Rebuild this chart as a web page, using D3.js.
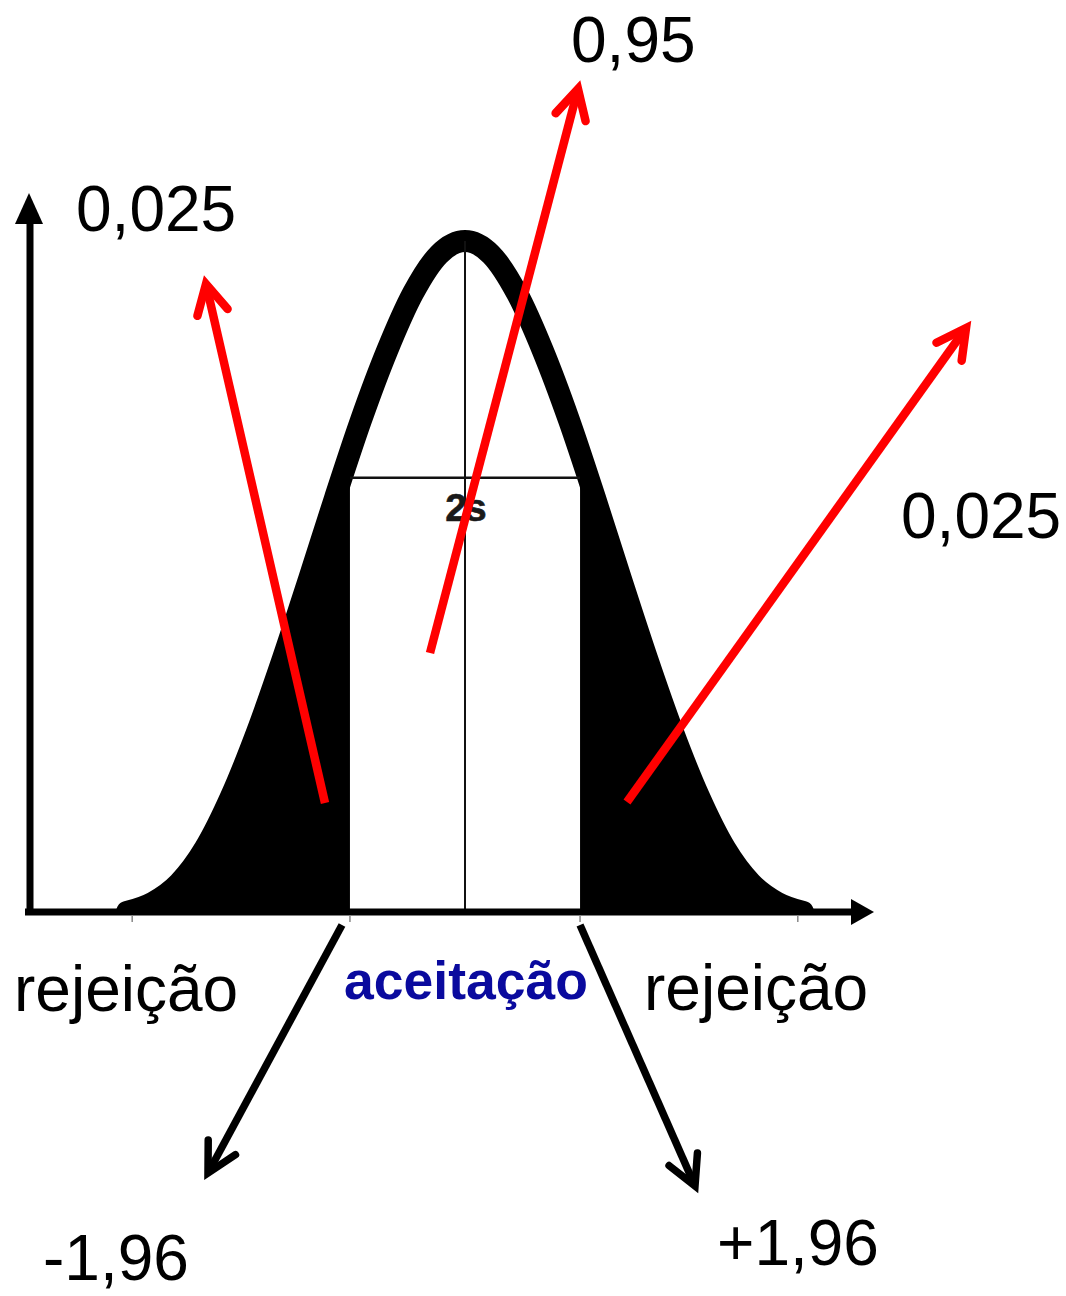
<!DOCTYPE html>
<html>
<head>
<meta charset="utf-8">
<script src="https://cdn.jsdelivr.net/npm/d3@7"></script>
<style>
  html, body { margin: 0; padding: 0; background: #fff; }
  svg { display: block; }
</style>
</head>
<body>
<svg id="chart" width="1066" height="1296"></svg>
<script>
// Bell curve: standardized positions and curve height relative to the peak
const zValues = [-2.6, -2.4, -2.2, -2.0, -1.8, -1.6, -1.4, -1.2, -1.0, -0.8, -0.6, -0.4, -0.2,
                 0, 0.2, 0.4, 0.6, 0.8, 1.0, 1.2, 1.4, 1.6, 1.8, 2.0, 2.2, 2.4, 2.6];
const curveHeights = [0.0, 0.014, 0.043, 0.095, 0.172, 0.268, 0.378, 0.496, 0.617, 0.733, 0.836, 0.922, 0.980,
                      1.0, 0.980, 0.922, 0.836, 0.733, 0.617, 0.496, 0.378, 0.268, 0.172, 0.095, 0.043, 0.014, 0.0];

// acceptance region limits and the level of the "2s" bar
const acceptanceLimits = [-0.885, 0.885];
const bandLevel = 0.647;
const axisTicks = [-2.56, -0.885, 0.885, 2.56];

// texts
const probLabels = ["0,025", "0,95", "0,025"];
const regionLabels = ["rejeição", "aceitação", "rejeição"];
const criticalLabels = ["-1,96", "+1,96"];
const spreadLabel = "2s";

const svg = d3.select("#chart");
const FONT = "'Liberation Sans', Arial, Helvetica, sans-serif";

const x = d3.scaleLinear().domain([-1, 1]).range([465 - 130, 465 + 130]);
const y = d3.scaleLinear().domain([0, 1]).range([912, 241]);

const points = zValues.map((z, i) => ({ z, h: curveHeights[i] }));

const defs = svg.append("defs");
// keeps only the two rejection tails
const clip = defs.append("clipPath").attr("id", "tails");
clip.append("rect").attr("x", 0).attr("y", 0)
  .attr("width", x(acceptanceLimits[0])).attr("height", 1296);
clip.append("rect").attr("x", x(acceptanceLimits[1])).attr("y", 0)
  .attr("width", 1066 - x(acceptanceLimits[1])).attr("height", 1296);
// keeps the curve stroke above the horizontal axis
defs.append("clipPath").attr("id", "aboveAxis")
  .append("rect").attr("x", 0).attr("y", 0).attr("width", 1066).attr("height", y(0));

const area = d3.area()
  .x(d => x(d.z)).y0(y(0)).y1(d => y(d.h))
  .curve(d3.curveMonotoneX);
const line = d3.line()
  .x(d => x(d.z)).y(d => y(d.h))
  .curve(d3.curveMonotoneX);

svg.append("path")
  .datum(points)
  .attr("d", area)
  .attr("fill", "#000")
  .attr("clip-path", "url(#tails)");

svg.append("g").attr("clip-path", "url(#aboveAxis)")
  .append("path")
  .datum(points)
  .attr("d", line)
  .attr("fill", "none")
  .attr("stroke", "#000")
  .attr("stroke-width", 22)
  .attr("stroke-linejoin", "round")
  .attr("stroke-linecap", "round");

// mean line and the 2s bar
svg.append("line")
  .attr("x1", x(0)).attr("x2", x(0))
  .attr("y1", y(1)).attr("y2", y(0))
  .attr("stroke", "#111").attr("stroke-width", 2);
svg.append("line")
  .attr("x1", x(acceptanceLimits[0])).attr("x2", x(acceptanceLimits[1]))
  .attr("y1", y(bandLevel)).attr("y2", y(bandLevel))
  .attr("stroke", "#111").attr("stroke-width", 2.5);
svg.append("text")
  .attr("x", x(0)).attr("y", y(bandLevel) + 43)
  .attr("text-anchor", "middle")
  .attr("font-family", FONT).attr("font-weight", "bold")
  .attr("font-size", 39).attr("letter-spacing", -2)
  .attr("fill", "#1a1a1a")
  .attr("stroke", "#1a1a1a").attr("stroke-width", 0.6)
  .text(spreadLabel);

// axes
const axes = svg.append("g");
axes.append("line")
  .attr("x1", 30).attr("x2", 30).attr("y1", y(0) + 3).attr("y2", 220)
  .attr("stroke", "#000").attr("stroke-width", 7);
axes.append("path")
  .attr("d", "M29,193 L43,224 L15,224 Z").attr("fill", "#000");
axes.append("line")
  .attr("x1", 25).attr("x2", 855).attr("y1", y(0)).attr("y2", y(0))
  .attr("stroke", "#000").attr("stroke-width", 7);
axes.append("path")
  .attr("d", `M874,${y(0)} L851,${y(0) - 13} L851,${y(0) + 13} Z`).attr("fill", "#000");

axes.selectAll("line.tick")
  .data(axisTicks)
  .enter().append("line")
  .attr("class", "tick")
  .attr("x1", d => x(d)).attr("x2", d => x(d))
  .attr("y1", y(0) + 3).attr("y2", y(0) + 10)
  .attr("stroke", "#888").attr("stroke-width", 1.5);

// callout arrows with open heads
function arrow(x1, y1, x2, y2, color, width) {
  const dx = x1 - x2, dy = y1 - y2;
  const len = Math.hypot(dx, dy);
  const ux = dx / len, uy = dy / len;
  const a = 28 * Math.PI / 180, arm = 33;
  const rot = (s) => [
    x2 + arm * (ux * Math.cos(s * a) - uy * Math.sin(s * a)),
    y2 + arm * (ux * Math.sin(s * a) + uy * Math.cos(s * a))
  ];
  const p1 = rot(1), p2 = rot(-1);
  const g = svg.append("g");
  g.append("line")
    .attr("x1", x1).attr("y1", y1)
    .attr("x2", x2 + ux * 4).attr("y2", y2 + uy * 4)
    .attr("stroke", color).attr("stroke-width", width)
    .attr("stroke-linecap", "butt");
  g.append("path")
    .attr("d", `M${p1[0]},${p1[1]} L${x2},${y2} L${p2[0]},${p2[1]}`)
    .attr("fill", "none").attr("stroke", color).attr("stroke-width", width)
    .attr("stroke-linecap", "round").attr("stroke-linejoin", "miter")
    .attr("stroke-miterlimit", 10);
}

arrow(325, 803, 206, 284, "#ff0000", 8.5);
arrow(430, 653, 578, 89, "#ff0000", 8.5);
arrow(627, 802, 966, 328, "#ff0000", 8.5);
arrow(342, 925, 208, 1173, "#000", 7.5);
arrow(580, 925, 695, 1186, "#000", 7.5);

// labels
function label(t, lx, ly, opts = {}) {
  svg.append("text")
    .attr("x", lx).attr("y", ly)
    .attr("text-anchor", opts.anchor || "start")
    .attr("font-family", FONT)
    .attr("font-weight", opts.weight || "normal")
    .attr("font-size", opts.size || 64)
    .attr("fill", opts.color || "#000")
    .text(t);
}

label(probLabels[0], 76, 231);
label(probLabels[1], 571, 62);
label(probLabels[2], 901, 538);

label(regionLabels[0], 14, 1011);
label(regionLabels[1], 466, 999, { anchor: "middle", weight: "bold", size: 53.5, color: "#0a0a9e" });
label(regionLabels[2], 644, 1010);

label(criticalLabels[0], 43, 1280);
label(criticalLabels[1], 717, 1265);
</script>
</body>
</html>
